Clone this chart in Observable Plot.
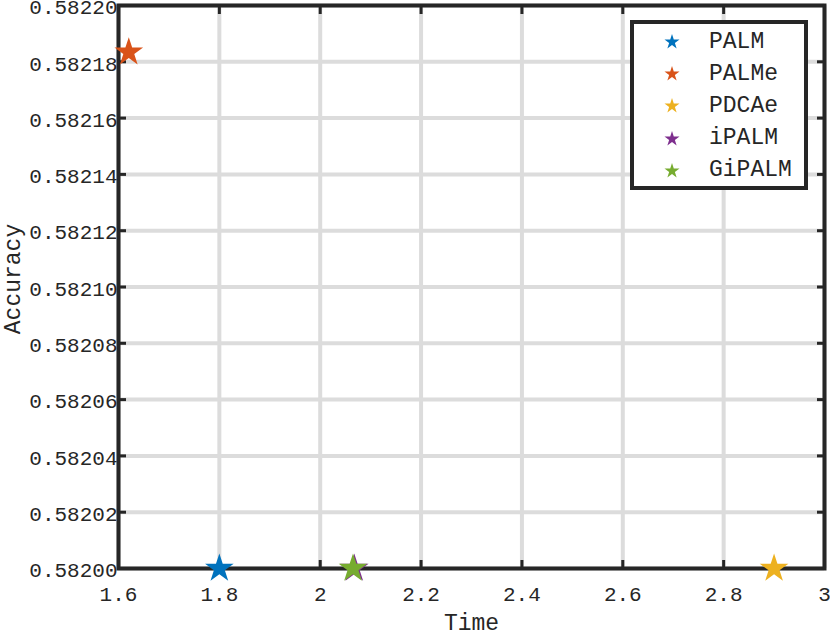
<!DOCTYPE html>
<html>
<head>
<meta charset="utf-8">
<script src="https://cdn.jsdelivr.net/npm/d3@7"></script>
<script src="https://cdn.jsdelivr.net/npm/@observablehq/plot@0.6"></script>
<style>
  html, body { margin: 0; padding: 0; background: #fff; }
  #wrap { position: relative; width: 830px; height: 633px; }
  #wrap svg.plot { position: absolute; left: 0; top: 0; }
  #legend {
    position: absolute; left: 630px; top: 20px; width: 178px; height: 170px;
    box-sizing: border-box; border: 4px solid #262626; background: #fff;
    padding-top: 2px;
    font-family: "Liberation Mono", "Courier New", monospace; font-size: 23px; color: #262626;
  }
  #legend .row { display: flex; align-items: center; height: 32.2px; }
  #legend .row svg { margin-left: 30px; width: 16px; height: 16px; flex: none; }
  #legend .row span { margin-left: 29px; line-height: 1; }
</style>
</head>
<body>
<div id="wrap"></div>
<script>
const methods = ["PALM", "PALMe", "PDCAe", "iPALM", "GiPALM"];
const colors = ["#0072BD", "#D95319", "#EDB120", "#7E2F8E", "#77AC30"];
const times = [1.8, 1.6204, 2.9, 2.0675, 2.065];
const accuracies = [0.58200, 0.5821834, 0.58200, 0.58200, 0.58200];
const xTicks = [1.6, 1.8, 2, 2.2, 2.4, 2.6, 2.8, 3];
const yTicks = [0.58200, 0.58202, 0.58204, 0.58206, 0.58208, 0.58210, 0.58212, 0.58214, 0.58216, 0.58218, 0.58220];
const xLabel = "Time";
const yLabel = "Accuracy";

const data = methods.map((m, i) => ({method: m, time: times[i], acc: accuracies[i], color: colors[i]}));

const ink = "#262626";
const grid = "#dcdcdc";
const font = "Liberation Mono, Courier New, monospace";
const blank = () => "";

const plot = Plot.plot({
  width: 830,
  height: 633,
  marginLeft: 118,
  marginRight: 6,
  marginTop: 5,
  marginBottom: 65,
  style: {fontFamily: font, color: ink, background: "white"},
  x: {domain: [1.6, 3], ticks: xTicks},
  y: {domain: [0.582, 0.5822], ticks: yTicks},
  marks: [
    Plot.gridX(xTicks, {stroke: grid, strokeOpacity: 1, strokeWidth: 4}),
    Plot.gridY(yTicks, {stroke: grid, strokeOpacity: 1, strokeWidth: 4}),
    Plot.frame({stroke: ink, strokeWidth: 4}),
    Plot.axisX(xTicks, {anchor: "bottom", tickSize: -8, strokeWidth: 3, stroke: ink, tickFormat: blank, label: null}),
    Plot.axisX(xTicks, {anchor: "top", tickSize: -8, strokeWidth: 3, stroke: ink, tickFormat: blank, label: null}),
    Plot.axisY(yTicks, {anchor: "left", tickSize: -8, strokeWidth: 3, stroke: ink, tickFormat: blank, label: null}),
    Plot.axisY(yTicks, {anchor: "right", tickSize: -8, strokeWidth: 3, stroke: ink, tickFormat: blank, label: null}),
    Plot.axisX(xTicks, {anchor: "bottom", tickSize: 0, tickPadding: 18, fontSize: 21, fill: ink, label: null,
      tickFormat: d => String(+d.toFixed(1))}),
    Plot.axisY(yTicks, {anchor: "left", tickSize: 0, tickPadding: 1, dy: 2, fontSize: 21, fill: ink, label: null,
      tickFormat: d3.format(".5f")}),
    Plot.text([xLabel], {frameAnchor: "bottom", dy: 61, fontSize: 23, fill: ink, fontFamily: font}),
    Plot.text([yLabel], {frameAnchor: "left", textAnchor: "middle", lineAnchor: "middle", rotate: -90, dx: -106, dy: -8, fontSize: 23, fill: ink, fontFamily: font}),
    Plot.dot(data, {x: "time", y: "acc", symbol: "star", r: 9, fill: "color", stroke: "none"})
  ]
});
plot.classList.add("plot");
const wrap = document.getElementById("wrap");
wrap.appendChild(plot);

const legend = document.createElement("div");
legend.id = "legend";
const starPath = d3.symbol(d3.symbolStar, 70)();
methods.forEach((m, i) => {
  const row = document.createElement("div");
  row.className = "row";
  row.innerHTML = `<svg viewBox="-8 -8 16 16"><path d="${starPath}" fill="${colors[i]}"/></svg><span>${m}</span>`;
  legend.appendChild(row);
});
wrap.appendChild(legend);
</script>
</body>
</html>
